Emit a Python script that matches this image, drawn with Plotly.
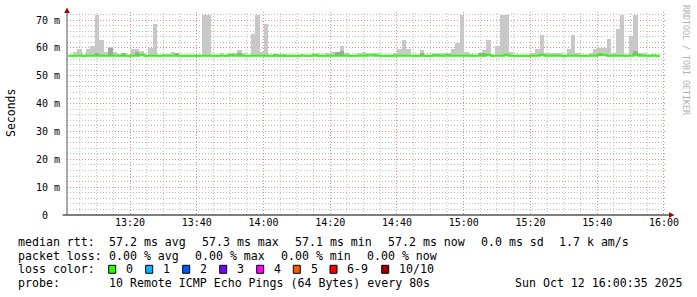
import numpy as np
import pandas as pd
import plotly.graph_objects as go

# ---------------- data ----------------
step_start = "2025-10-12 13:01:29"
step_seconds = 80
smoke_base_ms = 57.0

# top of the light smoke (max ping) per 80 s step, ms
smoke_max_ms = [
    57.5, 58.5, 59.7, 57.6, 59.7, 60.7, 72.0, 62.8, 58.5, 60.3,
    58.5, 57.8, 58.0, 57.5, 59.7, 59.7, 59.0, 57.5, 60.0, 68.6,
    57.6, 57.8, 57.8, 58.6, 58.2, 57.5, 57.5, 57.5, 57.5, 57.5,
    72.0, 72.0, 57.5, 57.5, 58.0, 57.5, 57.5, 58.3, 59.3, 58.3,
    57.5, 65.0, 72.0, 58.6, 68.6, 57.5, 57.8, 57.7, 57.7, 57.6,
    57.6, 57.5, 57.9, 57.5, 57.5, 57.5, 57.5, 57.5, 58.0, 58.5,
    58.3, 60.7, 58.0, 57.6, 57.6, 58.0, 58.5, 57.5, 57.5, 58.3,
    57.5, 57.5, 57.5, 58.3, 59.5, 62.8, 59.5, 57.5, 57.5, 59.3,
    57.5, 57.5, 57.5, 58.3, 58.3, 58.2, 59.7, 61.9, 72.0, 58.5,
    57.7, 57.5, 58.2, 59.4, 62.8, 57.5, 60.7, 72.0, 72.0, 58.5,
    57.5, 57.5, 57.5, 57.5, 58.3, 59.5, 64.6, 58.0, 58.0, 58.0,
    58.0, 57.5, 59.5, 64.6, 58.3, 57.5, 57.5, 58.3, 59.7, 59.8,
    59.8, 63.2, 58.2, 66.8, 72.0, 57.5, 64.4, 72.0, 58.2, 58.2,
    57.5, 57.9, 57.5,
]

# top of the darker inner smoke per step, ms (57.0 = none)
smoke_dark_ms = [
    57.0, 57.0, 57.0, 57.0, 57.0, 57.0, 58.2, 57.0, 57.0, 60.0,
    57.0, 57.0, 58.0, 57.0, 57.0, 58.7, 57.0, 57.0, 57.0, 57.0,
    57.0, 57.0, 57.0, 57.0, 58.0, 57.0, 57.0, 57.0, 57.0, 57.0,
    57.0, 57.0, 57.0, 57.0, 57.0, 57.0, 57.0, 57.0, 58.3, 57.0,
    57.0, 57.0, 57.0, 57.0, 57.0, 57.0, 57.8, 57.0, 57.0, 57.0,
    57.0, 57.0, 57.0, 57.0, 57.0, 57.0, 57.0, 57.0, 57.0, 57.0,
    58.5, 58.8, 57.0, 57.0, 57.0, 57.0, 57.0, 57.0, 57.0, 57.0,
    57.0, 57.0, 57.0, 57.0, 57.0, 57.0, 57.0, 57.0, 57.0, 58.3,
    57.0, 57.0, 57.0, 57.0, 57.0, 57.9, 57.0, 57.0, 57.0, 57.0,
    57.0, 57.0, 58.2, 58.0, 57.0, 57.0, 57.0, 57.0, 57.0, 57.0,
    57.0, 57.0, 57.0, 57.0, 57.0, 57.0, 57.0, 57.0, 57.0, 57.0,
    57.0, 57.0, 57.0, 57.0, 57.0, 57.0, 57.0, 57.0, 57.0, 58.3,
    57.0, 57.0, 57.0, 57.0, 57.0, 57.0, 57.0, 58.8, 57.9, 57.0,
    57.0, 57.0, 57.0,
]

# median rtt per step, ms
median_ms = [
    57.2, 57.2, 57.2, 57.2, 57.2, 57.2, 57.2, 57.2, 57.2, 57.2,
    57.2, 57.2, 57.2, 57.2, 57.2, 57.2, 57.55, 57.2, 57.2, 57.2,
    57.2, 57.2, 57.2, 57.2, 57.2, 57.2, 57.2, 57.2, 57.2, 57.2,
    57.2, 57.2, 57.2, 57.2, 57.2, 57.2, 57.55, 57.2, 57.2, 57.2,
    57.2, 57.2, 57.2, 57.2, 57.2, 57.2, 57.2, 57.2, 57.2, 57.2,
    57.2, 57.2, 57.2, 57.2, 57.2, 57.55, 57.2, 57.2, 57.2, 57.2,
    57.2, 57.2, 57.2, 57.2, 57.2, 57.2, 57.2, 57.55, 57.55, 57.2,
    57.2, 57.2, 57.2, 57.2, 57.2, 57.2, 57.2, 57.2, 57.2, 57.2,
    57.2, 57.2, 57.55, 57.2, 57.2, 57.2, 57.2, 57.2, 57.2, 57.2,
    57.2, 57.2, 57.2, 57.2, 57.55, 57.2, 57.2, 57.2, 57.55, 57.2,
    57.2, 57.2, 57.2, 57.2, 57.2, 57.2, 57.55, 57.2, 57.2, 57.2,
    57.2, 57.2, 57.2, 57.2, 57.2, 57.2, 57.2, 57.2, 57.2, 57.55,
    57.55, 57.2, 57.2, 57.2, 57.2, 57.2, 57.2, 57.55, 57.2, 57.2,
    57.2, 57.2, 57.2,
]

y_tick_vals = [0, 10, 20, 30, 40, 50, 60, 70]
y_tick_text = ["0\u00a0\u00a0", "10 m", "20 m", "30 m", "40 m", "50 m", "60 m", "70 m"]

legend_lines = [
    [(16, "median rtt:"), (107.3, "57.2 ms avg"), (200, "57.3 ms max"),
     (292.7, "57.1 ms min"), (386, "57.2 ms now"), (479.3, "0.0 ms sd"),
     (556.7, "1.7 k am/s")],
    [(16, "packet loss:"), (107.3, "0.00 % avg"), (193.3, "0.00 % max"),
     (279.3, "0.00 % min"), (365, "0.00 % now")],
    [(16, "loss color:")],
    [(16, "probe:"), (107.3, "10 Remote ICMP Echo Pings (64 Bytes) every 80s"),
     (513.3, "Sun Oct 12 16:00:35 2025")],
]
loss_labels = ["0", "1", "2", "3", "4", "5", "6-9", "10/10"]
loss_colors = ["#26ff00", "#00b8ff", "#0059ff", "#7e00ff", "#ff00ff", "#ff5500", "#ff0000", "#a10000"]
loss_box_x = [108.7, 145.7, 182.7, 219.7, 256.7, 293.3, 330.0, 381.7]

x_range = ["2025-10-12 13:01:07", "2025-10-12 16:00:55"]
x_grid_start = "2025-10-12 13:05:00"
x_grid_minutes = 5

# ---------------- geometry helpers ----------------
W, H = 697, 297
L, R, T, B = 67, 30, 12, 82
PW, PH = W - L - R, H - T - B


def px(x):
    return (x - L) / PW


def py(y):
    return (T + PH - y) / PH


MONO = "DejaVu Sans Mono"

n = len(smoke_max_ms)
t0 = pd.Timestamp(step_start)
starts = [t0 + pd.Timedelta(seconds=step_seconds * i) for i in range(n)]
centers = [s + pd.Timedelta(seconds=step_seconds / 2) for s in starts]
t_end = t0 + pd.Timedelta(seconds=step_seconds * n)

fig = go.Figure()
fig.add_trace(go.Bar(
    x=centers, y=[m - smoke_base_ms for m in smoke_max_ms], base=smoke_base_ms,
    width=step_seconds * 1000, marker=dict(color="#c8c8c8", line=dict(width=0)),
    hoverinfo="skip", showlegend=False))
fig.add_trace(go.Bar(
    x=centers, y=[d - smoke_base_ms for d in smoke_dark_ms], base=smoke_base_ms,
    width=step_seconds * 1000, marker=dict(color="#a4a4a4", line=dict(width=0)),
    hoverinfo="skip", showlegend=False))
fig.add_trace(go.Scatter(
    x=starts + [t_end], y=median_ms + [median_ms[-1]], mode="lines",
    line=dict(color="#26ff00", width=2, shape="hv"), showlegend=False))

grid_major = "#e68a8a"
grid_minor = "#bdbdbd"
DASH = "1px,2px"

fig.update_layout(
    width=W, height=H, margin=dict(l=L, r=R, t=T, b=B, pad=0),
    paper_bgcolor="white", plot_bgcolor="white", barmode="overlay", bargap=0,
    font=dict(family=MONO, size=10, color="black"),
    xaxis=dict(
        type="date", range=x_range,
        tick0="2025-10-12 13:00:00", dtick=20 * 60 * 1000, tickformat="%H:%M",
        showgrid=True, gridcolor=grid_major, griddash=DASH, gridwidth=1,
        ticks="", showline=False, zeroline=False, fixedrange=True,
        tickfont=dict(family=MONO, size=10, color="black"),
    ),
    yaxis=dict(
        range=[0, 72.9], tickvals=y_tick_vals, ticktext=y_tick_text,
        showgrid=True, gridcolor=grid_major, griddash=DASH, gridwidth=1,
        minor=dict(dtick=2, tick0=0, showgrid=True, gridcolor=grid_minor,
                   griddash=DASH, gridwidth=1),
        ticks="", showline=False, zeroline=False, ticklabelstandoff=6,
        tickfont=dict(family=MONO, size=10, color="black"),
    ),
)

shapes = []
# minor vertical grid (every 5 min, skipping the 20-min major lines)
g = pd.Timestamp(x_grid_start)
x_end = pd.Timestamp(x_range[1])
while g <= x_end:
    if g.minute % 20 != 0:
        shapes.append(dict(type="line", xref="x", yref="paper", x0=g, x1=g, y0=0, y1=1,
                           layer="below", line=dict(color=grid_minor, width=1, dash=DASH)))
    g += pd.Timedelta(minutes=x_grid_minutes)
# axes
shapes.append(dict(type="line", xref="paper", yref="paper", x0=px(62.5), x1=px(670),
                   y0=py(215), y1=py(215), line=dict(color="black", width=1)))
shapes.append(dict(type="line", xref="paper", yref="paper", x0=px(67), x1=px(67),
                   y0=py(215), y1=py(12), line=dict(color="#555555", width=1)))
# arrows
shapes.append(dict(type="path", xref="paper", yref="paper",
                   path=f"M {px(64.2)} {py(13)} L {px(69.8)} {py(13)} L {px(67)} {py(7.5)} Z",
                   fillcolor="#a10000", line=dict(color="#a10000", width=0)))
shapes.append(dict(type="path", xref="paper", yref="paper",
                   path=f"M {px(669)} {py(212.2)} L {px(669)} {py(217.8)} L {px(674.5)} {py(215)} Z",
                   fillcolor="#a10000", line=dict(color="#a10000", width=0)))

annotations = []
LEG_FONT = dict(family=MONO, size=11.6, color="black")
line_y = [241.7, 255.5, 269.3, 283.3]
for row, items in enumerate(legend_lines):
    for x, txt in items:
        annotations.append(dict(xref="paper", yref="paper", x=px(x), y=py(line_y[row]),
                                text=txt, showarrow=False, xanchor="left", yanchor="middle",
                                font=LEG_FONT))
# loss colour boxes
for lab, col, bx in zip(loss_labels, loss_colors, loss_box_x):
    shapes.append(dict(type="rect", xref="paper", yref="paper",
                       x0=px(bx), x1=px(bx + 7), y0=py(273.3), y1=py(265.3),
                       fillcolor=col, line=dict(color="black", width=1)))
    annotations.append(dict(xref="paper", yref="paper", x=px(bx + 15.3), y=py(line_y[2]),
                            text=lab, showarrow=False, xanchor="left", yanchor="middle",
                            font=LEG_FONT))
# y axis title
annotations.append(dict(xref="paper", yref="paper", x=px(11), y=py(113), text="Seconds",
                        showarrow=False, textangle=-90, xanchor="center", yanchor="middle",
                        font=dict(family=MONO, size=11.5, color="black")))
# watermark
annotations.append(dict(xref="paper", yref="paper", x=px(686), y=py(60),
                        text="RRDTOOL / TOBI OETIKER", showarrow=False, textangle=90,
                        xanchor="center", yanchor="middle",
                        font=dict(family=MONO, size=8.3, color="#b0b0b0")))

fig.update_layout(shapes=shapes, annotations=annotations)
fig.write_html("out.html")
